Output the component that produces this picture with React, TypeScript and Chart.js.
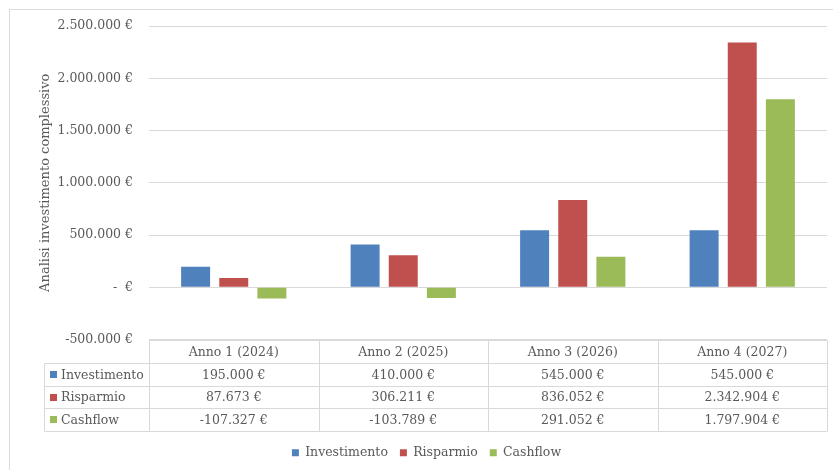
import React, { useEffect, useRef } from 'react';
import { Chart, registerables } from 'chart.js';
Chart.register(...registerables);

const categories = ['Anno 1 (2024)', 'Anno 2 (2025)', 'Anno 3 (2026)', 'Anno 4 (2027)'];
const seriesNames = ['Investimento', 'Risparmio', 'Cashflow'];
const investimento = [195000, 410000, 545000, 545000];
const risparmio = [87673, 306211, 836052, 2342904];
const cashflow = [-107327, -103789, 291052, 1797904];
const seriesColors = ['#4F81BD', '#C0504D', '#9BBB59'];
const yMin = -500000;
const yMax = 2500000;
const yStep = 500000;
const axisTitle = 'Analisi investimento complessivo';

const FONT = '"DejaVu Serif", serif';
const TEXT = '#595959';
const GRID = '#D9D9D9';

function fmtEuro(v: number): string {
  if (v === 0) return '-  €';
  const s = Math.abs(Math.round(v)).toString().replace(/\B(?=(\d{3})+(?!\d))/g, '.');
  return (v < 0 ? '-' : '') + s + ' €';
}

const allSeries = [investimento, risparmio, cashflow];

const tablePlugin = {
  id: 'dataTable',
  beforeDraw(chart: any) {
    const ctx = chart.ctx;
    ctx.save();
    ctx.fillStyle = '#ffffff';
    ctx.fillRect(0, 0, chart.width, chart.height);
    ctx.strokeStyle = '#DCDCDC';
    ctx.lineWidth = 1;
    ctx.strokeRect(9.5, 9.5, chart.width + 20, chart.height + 20);
    ctx.restore();
  },
  afterDraw(chart: any) {
    const { ctx, chartArea } = chart;
    const xs = chart.scales.x;
    const left = 44.5;
    const top = Math.round(chartArea.bottom) + 0.5;
    const rowH = 22.5;
    const colW = (chartArea.right - chartArea.left) / categories.length;
    const right = chartArea.right;
    ctx.save();
    ctx.strokeStyle = GRID;
    ctx.lineWidth = 1;
    ctx.beginPath();
    ctx.moveTo(chartArea.left, top);
    ctx.lineTo(right, top);
    for (let r = 1; r <= seriesNames.length + 1; r++) {
      const y = Math.round(top + r * rowH) + 0.5;
      ctx.moveTo(left, y);
      ctx.lineTo(right, y);
    }
    const bottom = Math.round(top + (seriesNames.length + 1) * rowH) + 0.5;
    ctx.moveTo(left, Math.round(top + rowH) + 0.5);
    ctx.lineTo(left, bottom);
    for (let c = 0; c <= categories.length; c++) {
      const x = Math.round(chartArea.left + c * colW) + 0.5;
      ctx.moveTo(x, top);
      ctx.lineTo(x, bottom);
    }
    ctx.stroke();

    ctx.fillStyle = TEXT;
    ctx.font = '12.5px ' + FONT;
    ctx.textBaseline = 'middle';
    ctx.textAlign = 'center';
    categories.forEach((c, i) => {
      ctx.fillText(c, xs.getPixelForValue(i), top + rowH / 2 + 1);
    });
    seriesNames.forEach((name, s) => {
      const yc = top + (s + 1) * rowH + rowH / 2 + 1;
      ctx.fillStyle = seriesColors[s];
      ctx.fillRect(50, Math.round(yc - 4), 7, 7);
      ctx.fillStyle = TEXT;
      ctx.textAlign = 'left';
      ctx.fillText(name, 61, yc);
      ctx.textAlign = 'center';
      allSeries[s].forEach((v, i) => {
        ctx.fillText(fmtEuro(v), xs.getPixelForValue(i), yc);
      });
    });
    ctx.restore();
  },
};

export default function App() {
  const ref = useRef<HTMLCanvasElement | null>(null);
  useEffect(() => {
    if (!ref.current) return;
    const chart = new Chart(ref.current, {
      type: 'bar',
      data: {
        labels: categories,
        datasets: seriesNames.map((n, i) => ({
          label: n,
          data: allSeries[i],
          backgroundColor: seriesColors[i],
          borderWidth: 0,
          categoryPercentage: 0.675,
          barPercentage: 0.76,
        })),
      },
      options: {
        animation: false,
        responsive: false,
        maintainAspectRatio: false,
        layout: { padding: { left: 26, top: 26, right: 6, bottom: 1 } },
        plugins: {
          legend: {
            position: 'bottom',
            labels: {
              boxWidth: 7,
              boxHeight: 7,
              padding: 12,
              color: TEXT,
              font: { family: FONT, size: 12.5 },
            },
          },
          tooltip: { enabled: false },
        },
        scales: {
          x: {
            ticks: { display: false },
            grid: { display: false },
            border: { display: false },
            afterFit: (s: any) => {
              s.height = 95;
            },
          },
          y: {
            min: yMin,
            max: yMax,
            ticks: {
              stepSize: yStep,
              padding: 16,
              color: TEXT,
              font: { family: FONT, size: 12.5 },
              callback: (v: any) => fmtEuro(Number(v)),
            },
            grid: { color: GRID, drawTicks: false, lineWidth: 1 },
            border: { display: false },
            title: {
              display: true,
              text: axisTitle,
              color: TEXT,
              font: { family: FONT, size: 13 },
              padding: { top: 12, bottom: 0 },
            },
            afterFit: (s: any) => {
              s.width = 123;
            },
          },
        },
      },
      plugins: [tablePlugin],
    } as any);
    return () => chart.destroy();
  }, []);
  return (
    <div style={{ position: 'absolute', left: 0, top: 0, width: 833, height: 470 }}>
      <canvas ref={ref} width={833} height={470} />
    </div>
  );
}
